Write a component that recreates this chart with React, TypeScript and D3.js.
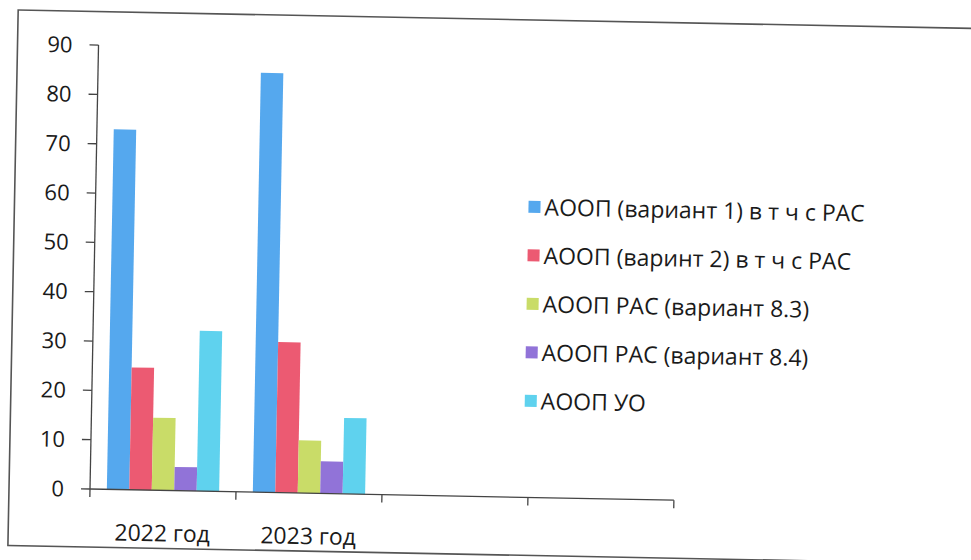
import React from "react";
import * as d3 from "d3";

const categories = ["2022 год", "2023 год", "", ""];
const seriesNames = [
  "АООП (вариант 1) в т ч с РАС",
  "АООП (варинт 2) в т ч с РАС",
  "АООП РАС (вариант 8.3)",
  "АООП РАС (вариант 8.4)",
  "АООП УО",
];
const seriesColors = ["#55a8ee", "#ec5a72", "#c9dc68", "#9173d8", "#5fd2ee"];
const values2022 = [73, 24.8, 14.7, 4.8, 32.5];
const values2023 = [85, 30.5, 10.7, 6.5, 15.4];
const yTicks = [0, 10, 20, 30, 40, 50, 60, 70, 80, 90];

const W = 971;
const H = 560;
const ox = 90;
const oy = 489;
const FONT = "'Open Sans', 'Noto Sans', sans-serif";

export default function App() {
  const groups = [values2022, values2023];
  const x0 = d3
    .scaleBand<number>()
    .domain(categories.map((_, i) => i))
    .range([ox, ox + 146 * 4])
    .paddingInner(0)
    .paddingOuter(0);
  const x1 = d3
    .scaleBand<number>()
    .domain(seriesNames.map((_, i) => i))
    .range([0, x0.bandwidth()])
    .paddingInner(0)
    .paddingOuter(0.75);
  const y = d3.scaleLinear().domain([0, 90]).range([oy, 45]);

  const boundaries = d3.range(categories.length + 1).map((i) => ox + x0.step() * i);

  return (
    <svg
      width={W}
      height={H}
      style={{ position: "absolute", left: 0, top: 0, background: "#fff" }}
      fontFamily={FONT}
    >
      <rect x={0} y={0} width={W} height={H} fill="#fff" />
      <g transform={`rotate(1.1, ${ox}, ${oy})`}>
        {/* outer border */}
        <rect x={9} y={11.5} width={1100} height={535.5} fill="none" stroke="#555" strokeWidth={1.6} />
        {/* bars */}
        {groups.map((vals, gi) =>
          vals.map((v, si) => (
            <rect
              key={`${gi}-${si}`}
              x={(x0(gi) as number) + (x1(si) as number)}
              y={y(v)}
              width={x1.bandwidth()}
              height={y(0) - y(v)}
              fill={seriesColors[si]}
            />
          ))
        )}
        {/* y axis */}
        <line x1={ox} y1={y(90)} x2={ox} y2={y(0)} stroke="#444" strokeWidth={1.3} />
        {yTicks.map((t) => (
          <g key={t}>
            <line x1={ox - 9} x2={ox} y1={y(t)} y2={y(t)} stroke="#444" strokeWidth={1.3} />
            <text x={64} y={y(t)} dy="0.36em" textAnchor="end" fontSize={22} fill="#1a1a1a">
              {t}
            </text>
          </g>
        ))}
        {/* x axis */}
        <line x1={ox} x2={boundaries[boundaries.length - 1]} y1={oy} y2={oy} stroke="#444" strokeWidth={1.3} />
        {boundaries.map((bx, i) => (
          <line key={i} x1={bx} x2={bx} y1={oy} y2={oy + 8} stroke="#444" strokeWidth={1.3} />
        ))}
        {categories.map((c, i) =>
          c ? (
            <text
              key={i}
              x={(x0(i) as number) + x0.bandwidth() / 2}
              y={oy + 51}
              textAnchor="middle"
              fontSize={23}
              fill="#1a1a1a"
            >
              {c}
            </text>
          ) : null
        )}
        {/* legend */}
        {seriesNames.map((n, i) => {
          const cy = 198.5 + i * 48.5;
          return (
            <g key={n}>
              <rect x={523} y={cy - 6} width={12} height={12} fill={seriesColors[i]} />
              <text x={539} y={cy} dy="0.36em" fontSize={23} fill="#1a1a1a">
                {n}
              </text>
            </g>
          );
        })}
      </g>
    </svg>
  );
}
